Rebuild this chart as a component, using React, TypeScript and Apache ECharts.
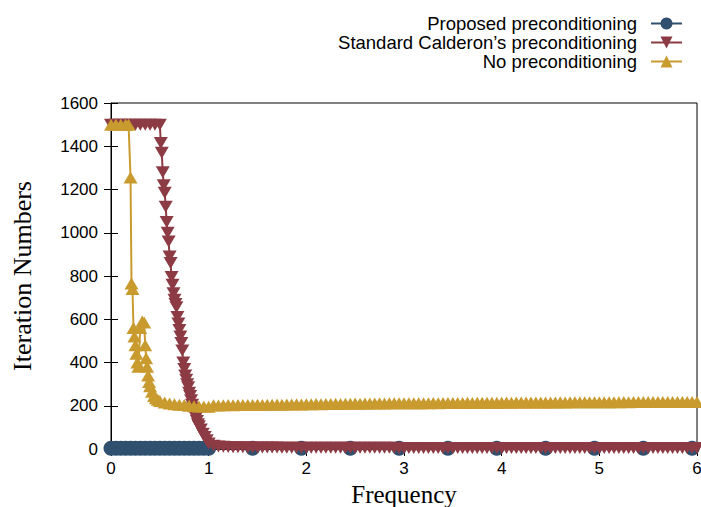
import React, { useEffect, useRef } from "react";
import * as echarts from "echarts";

const seriesNames = [
  "Proposed preconditioning",
  "Standard Calderon\u2019s preconditioning",
  "No preconditioning",
];

const xTicks = [0, 1, 2, 3, 4, 5, 6];
const yTicks = [0, 200, 400, 600, 800, 1000, 1200, 1400, 1600];

// Proposed preconditioning
const blueFreq = [
  0, 0.05, 0.1, 0.15, 0.2, 0.25, 0.3, 0.35, 0.4, 0.45, 0.5, 0.55, 0.6, 0.65, 0.7,
  0.75, 0.8, 0.85, 0.9, 0.95, 1.0, 1.45, 1.95, 2.45, 2.95, 3.45, 3.95, 4.45, 4.95,
  5.45, 5.95,
];
const blueIter = [
  4, 4, 4, 3, 3, 3, 3, 3, 3, 3, 3, 3, 3, 3, 3, 3, 3, 3, 3, 3, 3, 3, 3, 3, 3, 3, 3,
  3, 3, 3, 3,
];

// Standard Calderon's preconditioning
const redFreqHead = [
  0, 0.05, 0.1, 0.15, 0.2, 0.25, 0.3, 0.35, 0.4, 0.45, 0.5, 0.51, 0.52, 0.53, 0.54,
  0.55, 0.56, 0.57, 0.58, 0.59, 0.6, 0.61, 0.62, 0.63, 0.64, 0.65, 0.66, 0.67, 0.68,
  0.69, 0.7, 0.71, 0.72, 0.73, 0.74, 0.75, 0.76, 0.77, 0.78, 0.79, 0.8, 0.81, 0.82,
  0.83, 0.84, 0.85, 0.86, 0.87, 0.88, 0.89, 0.9, 0.92, 0.94, 0.96, 0.98, 1.0,
];
const redIterHead = [
  1500, 1500, 1500, 1500, 1500, 1500, 1500, 1500, 1500, 1500, 1500, 1415, 1370,
  1280, 1220, 1185, 1120, 1050, 1000, 960, 890, 860, 795, 760, 720, 690, 670, 655,
  610, 580, 550, 520, 490, 455, 400, 370, 340, 320, 300, 285, 260, 245, 225, 205,
  190, 175, 155, 145, 130, 115, 105, 90, 70, 55, 40, 25,
];

// shared tail sampling (1.05 .. 6.00)
const tailFreq = [
  1.05, 1.1, 1.15, 1.2, 1.25, 1.3, 1.35, 1.4, 1.45, 1.5,
  1.55, 1.6, 1.65, 1.7, 1.75, 1.8, 1.85, 1.9, 1.95, 2.0,
  2.05, 2.1, 2.15, 2.2, 2.25, 2.3, 2.35, 2.4, 2.45, 2.5,
  2.55, 2.6, 2.65, 2.7, 2.75, 2.8, 2.85, 2.9, 2.95, 3.0,
  3.05, 3.1, 3.15, 3.2, 3.25, 3.3, 3.35, 3.4, 3.45, 3.5,
  3.55, 3.6, 3.65, 3.7, 3.75, 3.8, 3.85, 3.9, 3.95, 4.0,
  4.05, 4.1, 4.15, 4.2, 4.25, 4.3, 4.35, 4.4, 4.45, 4.5,
  4.55, 4.6, 4.65, 4.7, 4.75, 4.8, 4.85, 4.9, 4.95, 5.0,
  5.05, 5.1, 5.15, 5.2, 5.25, 5.3, 5.35, 5.4, 5.45, 5.5,
  5.55, 5.6, 5.65, 5.7, 5.75, 5.8, 5.85, 5.9, 5.95, 6.0,
];
const redIterTail = [
  15, 12, 10, 9, 8, 8, 8, 7, 7, 7,
  7, 7, 7, 7, 6, 6, 6, 6, 6, 6,
  6, 6, 6, 6, 6, 6, 6, 6, 6, 6,
  6, 6, 6, 6, 6, 6, 6, 6, 5, 5,
  5, 5, 5, 5, 5, 5, 5, 5, 5, 5,
  5, 5, 5, 5, 5, 5, 5, 5, 5, 5,
  5, 5, 5, 5, 5, 5, 5, 5, 5, 5,
  5, 5, 5, 5, 5, 5, 5, 5, 5, 5,
  5, 5, 5, 5, 5, 5, 5, 5, 5, 5,
  5, 5, 5, 5, 5, 5, 5, 5, 5, 5,
];

// No preconditioning
const yellowFreqHead = [
  0, 0.05, 0.1, 0.15, 0.18, 0.2, 0.21, 0.22, 0.23, 0.24, 0.25, 0.26, 0.27, 0.28,
  0.3, 0.32, 0.34, 0.35, 0.36, 0.37, 0.38, 0.39, 0.4, 0.42, 0.44, 0.46, 0.48, 0.5,
  0.55, 0.6, 0.65, 0.7, 0.75, 0.8, 0.85, 0.9, 0.95, 1.0,
];
const yellowIterHead = [
  1500, 1500, 1500, 1500, 1500, 1255, 765, 740, 560, 520, 480, 440, 400, 380, 560,
  590, 585, 480, 420, 380, 340, 310, 290, 265, 245, 235, 228, 222, 215, 210, 207,
  205, 203, 200, 198, 197, 196, 195,
];
const yellowIterTail = [
  202, 201, 202, 203, 202, 203, 204, 203, 204, 205,
  204, 205, 205, 206, 205, 206, 206, 207, 206, 207,
  207, 208, 207, 208, 208, 209, 208, 209, 209, 210,
  209, 210, 210, 210, 211, 210, 211, 211, 211, 212,
  211, 212, 212, 212, 212, 213, 212, 213, 213, 213,
  213, 213, 214, 213, 214, 214, 214, 214, 214, 214,
  215, 214, 215, 215, 215, 215, 215, 215, 215, 215,
  215, 216, 215, 216, 216, 216, 216, 216, 216, 216,
  216, 216, 216, 216, 217, 216, 217, 217, 217, 217,
  217, 217, 217, 217, 217, 217, 217, 217, 217, 217,
];

const colors = ["#30506f", "#8c3b44", "#c99b2f"];

function zip(xs: number[], ys: number[]) {
  return xs.map((x, i) => [x, ys[i]]);
}

export default function App() {
  const ref = useRef<HTMLDivElement>(null);
  useEffect(() => {
    if (!ref.current) return;
    const chart = echarts.init(ref.current, undefined, { renderer: "svg" });
    const sans = "Liberation Sans";
    const serif = "Liberation Serif";
    const legendBase = {
      orient: "horizontal",
      align: "right",
      right: 18,
      itemWidth: 31,
      itemHeight: 15,
      itemGap: 0,
      padding: 0,
      textStyle: { fontFamily: sans, fontSize: 18.5, color: "#000", padding: [0, 9, 0, 0] },
      selectedMode: false,
    };
    const option = {
      animation: false,
      backgroundColor: "#fff",
      color: colors,
      legend: [
        { ...legendBase, top: 14, data: [seriesNames[0]] },
        { ...legendBase, top: 33, data: [seriesNames[1]] },
        { ...legendBase, top: 52, data: [seriesNames[2]] },
      ],
      grid: {
        left: 111,
        right: 4,
        top: 103,
        bottom: 58,
        outerBoundsMode: "none",
        containLabel: false,
        show: true,
        borderColor: "#000",
        borderWidth: 1,
        backgroundColor: "transparent",
      },
      xAxis: [
        {
          type: "value",
          min: xTicks[0],
          max: xTicks[xTicks.length - 1],
          interval: 1,
          name: "Frequency",
          nameLocation: "middle",
          nameGap: 28,
          nameTextStyle: { fontFamily: serif, fontSize: 25, lineHeight: 26, color: "#000" },
          axisLine: { show: true, lineStyle: { color: "#000", width: 1 } },
          axisTick: { show: true, inside: true, length: 7, lineStyle: { color: "#000" } },
          axisLabel: {
            fontFamily: sans,
            fontSize: 17,
            color: "#000",
            margin: 11,
            formatter: (v: number) => String(v),
          },
          splitLine: { show: false },
        },
        {
          type: "value",
          position: "top",
          min: xTicks[0],
          max: xTicks[xTicks.length - 1],
          interval: 1,
          axisLine: { show: false },
          axisTick: { show: true, inside: true, length: 7, lineStyle: { color: "#000" } },
          axisLabel: { show: false },
          splitLine: { show: false },
        },
      ],
      yAxis: [
        {
          type: "value",
          min: yTicks[0],
          max: yTicks[yTicks.length - 1],
          interval: 200,
          name: "Iteration Numbers",
          nameLocation: "middle",
          nameGap: 76,
          nameTextStyle: { fontFamily: serif, fontSize: 26, color: "#000" },
          axisLine: { show: true, lineStyle: { color: "#000", width: 1 } },
          axisTick: { show: true, inside: true, length: 7, lineStyle: { color: "#000" } },
          axisLabel: {
            fontFamily: sans,
            fontSize: 17,
            color: "#000",
            margin: 13,
            formatter: (v: number) => String(v),
          },
          splitLine: { show: false },
        },
        {
          type: "value",
          position: "right",
          min: yTicks[0],
          max: yTicks[yTicks.length - 1],
          interval: 200,
          axisLine: { show: false },
          axisTick: { show: true, inside: true, length: 7, lineStyle: { color: "#000" } },
          axisLabel: { show: false },
          splitLine: { show: false },
        },
      ],
      series: [
        {
          name: seriesNames[0],
          type: "line",
          xAxisIndex: 0,
          yAxisIndex: 0,
          data: zip(blueFreq, blueIter),
          symbol: "circle",
          symbolSize: 15,
          showAllSymbol: true,
          lineStyle: { width: 2, color: colors[0] },
          itemStyle: { color: colors[0] },
          z: 2,
        },
        {
          name: seriesNames[1],
          type: "line",
          xAxisIndex: 0,
          yAxisIndex: 0,
          data: zip(redFreqHead.concat(tailFreq), redIterHead.concat(redIterTail)),
          symbol: "triangle",
          symbolRotate: 180,
          symbolSize: [14, 12],
          showAllSymbol: true,
          lineStyle: { width: 2, color: colors[1] },
          itemStyle: { color: colors[1] },
          z: 3,
        },
        {
          name: seriesNames[2],
          type: "line",
          xAxisIndex: 0,
          yAxisIndex: 0,
          data: zip(yellowFreqHead.concat(tailFreq), yellowIterHead.concat(yellowIterTail)),
          symbol: "triangle",
          symbolSize: [14, 12],
          showAllSymbol: true,
          lineStyle: { width: 2, color: colors[2] },
          itemStyle: { color: colors[2] },
          z: 4,
        },
      ],
    };
    chart.setOption(option as any);
    return () => chart.dispose();
  }, []);
  return <div ref={ref} style={{ width: 701, height: 507, position: "fixed", left: 0, top: 0 }} />;
}
